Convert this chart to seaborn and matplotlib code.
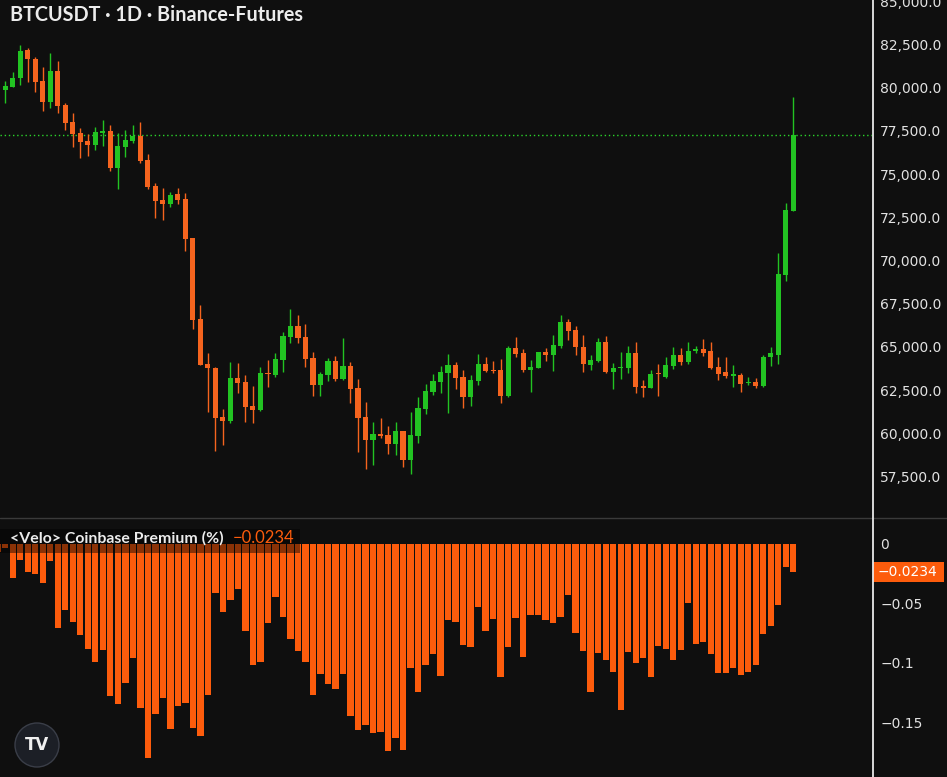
import numpy as np
import pandas as pd
import matplotlib.pyplot as plt
import matplotlib.patches as mpatches
from matplotlib.transforms import IdentityTransform
import seaborn as sns

# Daily BTCUSDT candles
opens = [81319, 79873, 80064, 80550, 82188, 81684, 80394, 79196, 80972, 79005,
         78038, 77367, 76921, 76690, 77402, 77517, 75376, 76591, 76939, 77211,
         75822, 74334, 73507, 73276, 73837, 73565, 71290, 66603, 64016, 63802,
         60967, 60735, 63188, 62992, 61586, 61354, 63513, 63379, 64248, 65596,
         66233, 65596, 64381, 62801, 63379, 64207, 63131, 63918, 62645, 60967,
         59619, 59966, 59908, 59387, 60139, 58461, 59850, 61412, 62413, 62992,
         63513, 63958, 63247, 62124, 63050, 64016, 63672, 63672, 62182, 64960,
         64636, 63672, 63802, 64729, 64538, 65059, 66465, 65984, 65018, 63958,
         64207, 65307, 63571, 63802, 63802, 64671, 62743, 62645, 63478, 63281,
         63901, 64538, 64115, 64786, 64867, 64769, 63860, 63536, 63340, 63379,
         62934, 62992, 62743, 64404, 64538, 69167, 72888]
highs = [81493, 80411, 80932, 82477, 82286, 81800, 81221, 81997, 81568, 79138,
         78524, 77657, 77309, 77714, 78137, 77847, 77402, 77558, 77847, 78038,
         76169, 74473, 74184, 73987, 74184, 73929, 71308, 67430, 64636, 63842,
         61395, 64120, 64091, 63379, 62743, 63825, 64248, 64671, 65851, 67182,
         66852, 66331, 64729, 63571, 64346, 64479, 65539, 64150, 63131, 61835,
         60677, 60874, 60445, 60677, 60139, 61256, 62124, 62859, 63437, 63901,
         64595, 64150, 63672, 63379, 64595, 64439, 64190, 64288, 65059, 65562,
         64868, 64248, 64729, 64925, 65696, 66852, 66621, 66215, 65696, 64538,
         65503, 65637, 64056, 64694, 65059, 65307, 63090, 63672, 64038, 64439,
         64983, 64925, 65307, 65059, 65446, 65307, 64404, 64404, 63958, 63513,
         63264, 63189, 64538, 64983, 70423, 73351, 79485]
lows = [79815, 79120, 80029, 80162, 80353, 79774, 78675, 78814, 78559, 77558,
        76557, 75920, 76053, 76401, 76632, 75203, 74126, 76013, 76788, 75631,
        74143, 72448, 72349, 73119, 73247, 70556, 66025, 63958, 61256, 58999,
        59329, 60619, 62320, 60677, 60619, 61314, 62668, 63247, 63571, 65214,
        65214, 63825, 62165, 62165, 63050, 63050, 63090, 61742, 58941, 57922,
        58171, 59717, 58808, 58750, 58073, 57650, 59462, 61123, 62222, 62355,
        61198, 62552, 61452, 61586, 62801, 63571, 63513, 61742, 62124, 64404,
        63571, 62414, 63767, 64190, 63629, 64925, 65406, 64538, 63571, 63672,
        64149, 63478, 62552, 63131, 63478, 62320, 62089, 62610, 62165, 63188,
        63709, 63958, 64016, 64636, 64479, 63709, 63090, 63188, 62703, 62414,
        62801, 62610, 62668, 63901, 64016, 68837, 72888]
closes = [79988, 80104, 80585, 82130, 81649, 80353, 79196, 80972, 78964, 77980,
          77326, 76881, 76690, 77442, 77500, 75341, 76632, 76979, 77228, 75781,
          74277, 73466, 73276, 73796, 73507, 71250, 66563, 63958, 63767, 60874,
          60735, 63188, 62934, 61546, 61354, 63478, 63437, 64306, 65654, 66233,
          65504, 64306, 62801, 63437, 64207, 63131, 63918, 62552, 60874, 59619,
          59966, 59867, 59387, 60139, 58461, 59908, 61487, 62471, 63050, 63571,
          63958, 63188, 62124, 63090, 64016, 63611, 63597, 62182, 64960, 64595,
          63672, 63860, 64729, 64538, 65117, 66430, 65944, 64983, 63999, 64248,
          65307, 63536, 63767, 63860, 64671, 62703, 62610, 63437, 63420, 63958,
          64538, 64115, 64769, 64867, 64671, 63767, 63437, 63340, 63420, 62859,
          62992, 62760, 64439, 64636, 69225, 72928, 77268]

# Coinbase premium (%) per day
premium = [-0.0065, -0.0034, -0.0283, -0.0134, -0.0233, -0.0252, -0.0325, -0.0140, -0.0703, -0.0555,
           -0.0653, -0.0765, -0.0882, -0.0989, -0.0891, -0.1275, -0.1342, -0.1166, -0.0955, -0.1381,
           -0.1801, -0.1431, -0.1297, -0.1555, -0.1359, -0.1339, -0.1549, -0.1611, -0.1269, -0.0409,
           -0.0569, -0.0471, -0.0378, -0.0729, -0.1017, -0.0989, -0.0661, -0.0443, -0.0616, -0.0798,
           -0.0897, -0.0989, -0.1269, -0.1092, -0.1176, -0.1218, -0.1092, -0.1445, -0.1563, -0.1521,
           -0.1586, -0.1577, -0.1737, -0.1633, -0.1731, -0.1045, -0.1241, -0.1017, -0.0924, -0.1107,
           -0.0639, -0.0653, -0.0849, -0.0868, -0.0527, -0.0729, -0.0630, -0.1120, -0.0863, -0.0619,
           -0.0947, -0.0597, -0.0597, -0.0639, -0.0661, -0.0611, -0.0429, -0.0745, -0.0897, -0.1241,
           -0.0913, -0.0975, -0.1073, -0.1395, -0.0905, -0.0997, -0.0955, -0.1115, -0.0857, -0.0882,
           -0.0975, -0.0891, -0.0493, -0.0840, -0.0826, -0.0924, -0.1082, -0.1082, -0.1039, -0.1101,
           -0.1073, -0.1017, -0.0756, -0.0689, -0.0513, -0.0191, -0.0234]

price_ticks = [57500, 60000, 62500, 65000, 67500, 70000, 72500, 75000, 77500, 80000, 82500, 85000]
prem_ticks = [0, -0.05, -0.1, -0.15]
prem_labels = ['0', '\u22120.05', '\u22120.1', '\u22120.15']

BG = '#0f0f0f'
GREEN = '#22c322'
RED = '#f5641e'
BAR = '#fd5c0c'
TXT = '#e2e2e2'

sns.set_theme(style='dark', rc={'figure.facecolor': BG, 'axes.facecolor': BG,
                                'axes.edgecolor': BG, 'text.color': TXT})
plt.rcParams['font.family'] = ['DejaVu Sans']

df = pd.DataFrame({'day': np.arange(len(opens)), 'open': opens, 'high': highs,
                   'low': lows, 'close': closes, 'premium': premium})
df['up'] = df['close'] >= df['open']

W, H = 947, 777
fig = plt.figure(figsize=(W / 100, H / 100), dpi=100)
ax = fig.add_axes([0, 1 - 517 / H, 872 / W, 517 / H])
ax2 = fig.add_axes([0, 0, 872 / W, 258 / H])

# candles
cols = np.where(df['up'], GREEN, RED)
ax.vlines(df['day'], df['low'], df['high'], colors=cols, linewidth=1, zorder=2)
body_lo = df[['open', 'close']].min(axis=1)
body_h = (df['open'] - df['close']).abs().clip(lower=50)
ax.bar(df['day'], body_h, bottom=body_lo, width=0.68, color=cols, linewidth=0, zorder=3)
ax.axhline(closes[-1], color='#2bd42b', lw=1, ls=(0, (1, 2)), zorder=1)

ax.set_xlim(0.29, 116.5)
ax.set_ylim(55162, 85081)
ax.yaxis.tick_right()
ax.set_yticks(price_ticks)
ax.set_yticklabels([f'{t:,.1f}' for t in price_ticks])
ax.set_xticks([])
ax.tick_params(axis='y', length=0, pad=6, labelsize=10, labelcolor=TXT)
for s in ax.spines.values():
    s.set_visible(False)

# premium bars
sns.barplot(data=df, x='day', y='premium', color=BAR, saturation=1, width=0.83,
            errorbar=None, linewidth=0, ax=ax2)
ax2.set_xlim(0.29, 116.5)
ax2.set_ylim(-0.1958, 0.021)
ax2.set_xlabel('')
ax2.set_ylabel('')
ax2.set_xticks([])
ax2.yaxis.tick_right()
ax2.set_yticks(prem_ticks)
ax2.set_yticklabels(prem_labels)
ax2.tick_params(axis='y', length=0, pad=6, labelsize=10, labelcolor=TXT)
for s in ax2.spines.values():
    s.set_visible(False)

# panel separators
fig.add_artist(plt.Line2D([0, 1], [1 - 517.5 / H] * 2, color='#3a3a3a', lw=1))
fig.add_artist(plt.Line2D([872.5 / W] * 2, [0, 1], color='#e8e8e8', lw=1.3))

# title and indicator legend
fig.text(10 / W, 1 - 15 / H, 'BTCUSDT \u00b7 1D \u00b7 Binance-Futures', va='center', ha='left',
         fontsize=14.2, fontweight='bold', color='#ececec', family=['Lato', 'DejaVu Sans'])
fig.add_artist(mpatches.Rectangle((0, 777 - 553), 300, 24, transform=IdentityTransform(),
                                  facecolor='black', alpha=0.45, linewidth=0))
fig.text(10 / W, 1 - 538 / H, '<Velo> Coinbase Premium (%)', va='center', ha='left',
         fontsize=11.4, fontweight='bold', color='#ececec', family=['Lato', 'DejaVu Sans'])
fig.text(233 / W, 1 - 538 / H, '\u22120.0234', va='center', ha='left',
         fontsize=12, color=BAR, family=['Lato', 'DejaVu Sans'])

# last value tag
fig.add_artist(mpatches.Rectangle((873, 777 - 582), 71, 20, transform=IdentityTransform(),
                                  facecolor=BAR, linewidth=0))
fig.text(878 / W, 1 - 572 / H, '\u22120.0234', va='center', ha='left', fontsize=10, color='white')

# logo
fig.add_artist(mpatches.Circle((37, 777 - 745), 22, transform=IdentityTransform(),
                               facecolor='#1c1f26', edgecolor='#3a3e48', linewidth=1))
fig.text(37 / W, 1 - 745 / H, 'TV', ha='center', va='center', fontsize=12,
         fontweight='bold', color='#f0f0f0')

fig.savefig('out.png', dpi=100, facecolor=BG)
